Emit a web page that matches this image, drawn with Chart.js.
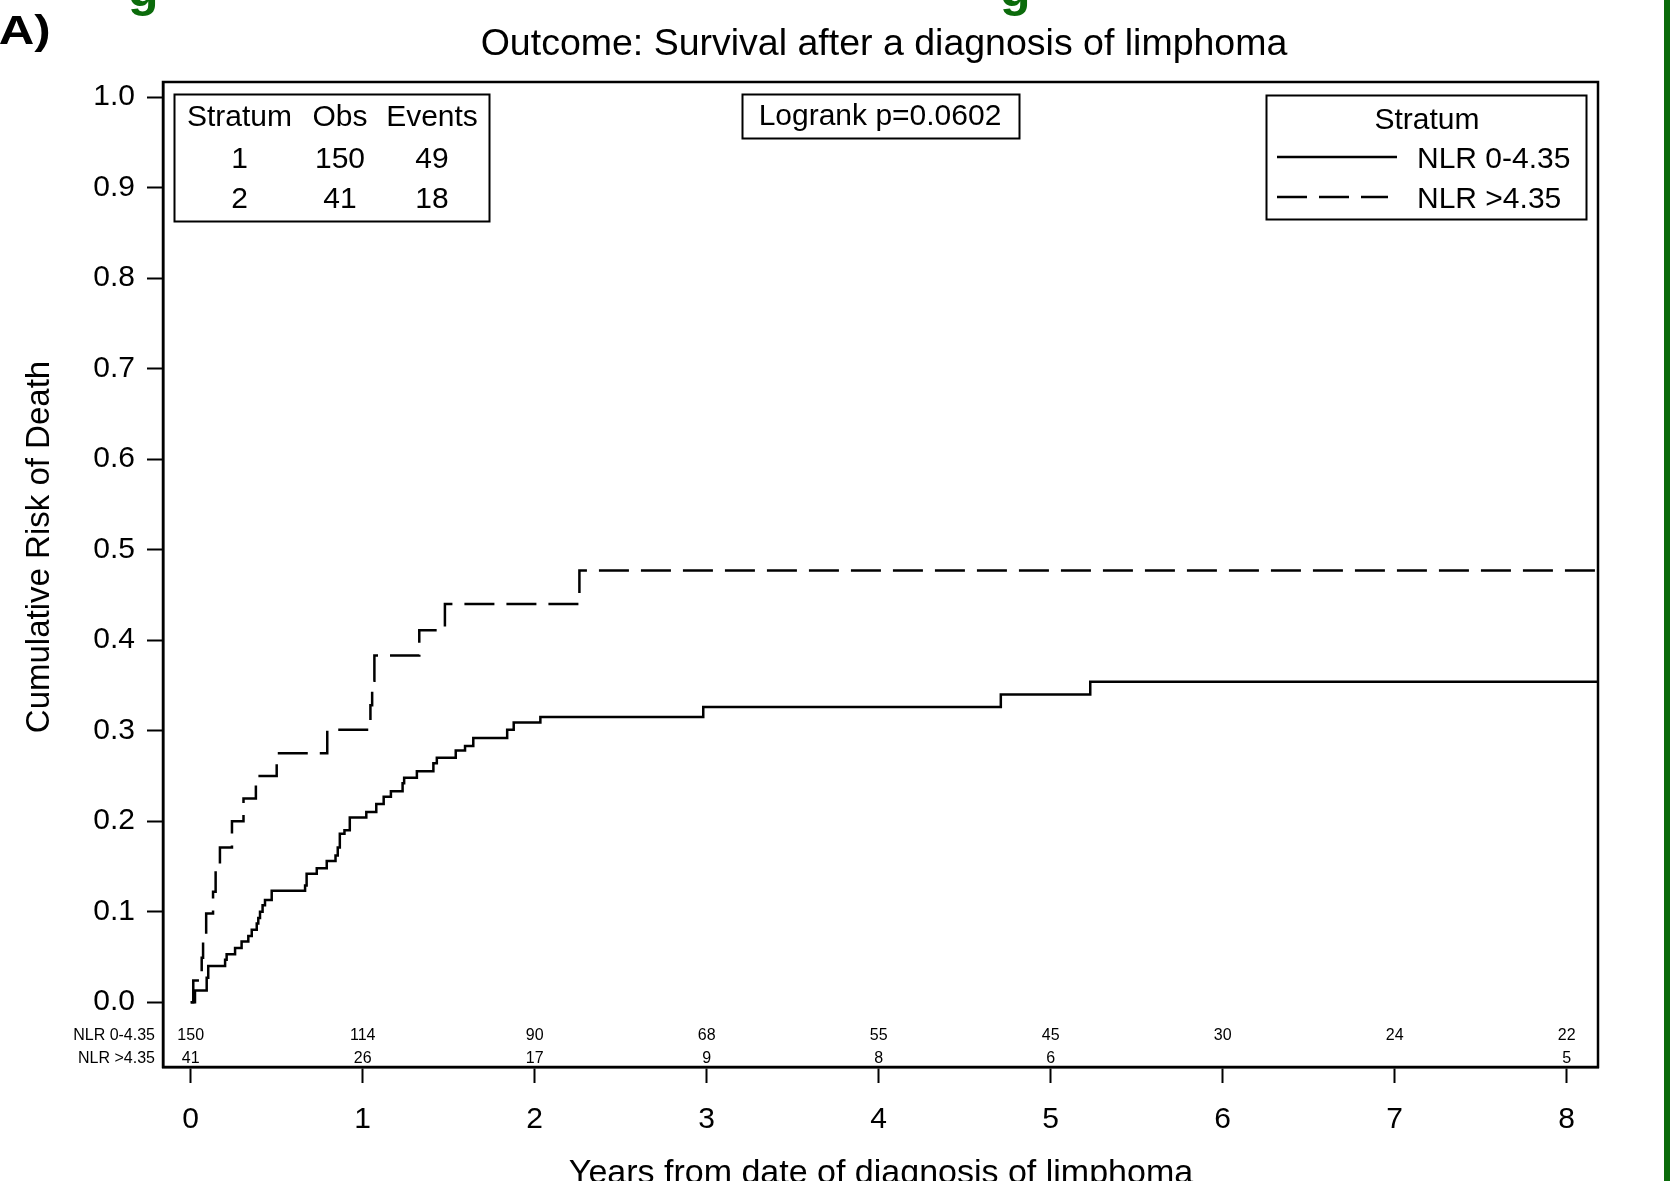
<!DOCTYPE html>
<html>
<head>
<meta charset="utf-8">
<script src="https://cdn.jsdelivr.net/npm/chart.js@4.4.1/dist/chart.umd.min.js"></script>
<style>
  html, body { margin: 0; padding: 0; background: #fff; }
  #wrap { position: relative; width: 1670px; height: 1181px; overflow: hidden; }
</style>
</head>
<body>
<div id="wrap"><canvas id="km"></canvas></div>
<script>
// cumulative risk of death, step values: [years] / [risk]
const lowNlrTimes = [0, 0.025, 0.093, 0.102, 0.20, 0.209, 0.258, 0.296, 0.335, 0.355, 0.384, 0.393, 0.403, 0.418, 0.432, 0.471,
  0.665, 0.674, 0.733, 0.791, 0.842, 0.855, 0.867, 0.894, 0.925, 1.021, 1.079, 1.122, 1.164, 1.232, 1.241, 1.315, 1.411, 1.431,
  1.541, 1.595, 1.643, 1.840, 1.878, 2.033, 2.98, 4.71, 5.23, 8.18];
const lowNlrRisk = [0, 0.013, 0.027, 0.040, 0.047, 0.053, 0.060, 0.067, 0.073, 0.080, 0.087, 0.093, 0.100, 0.107, 0.113, 0.123,
  0.129, 0.142, 0.148, 0.156, 0.162, 0.171, 0.186, 0.190, 0.204, 0.210, 0.219, 0.227, 0.233, 0.242, 0.248, 0.255, 0.264, 0.270,
  0.278, 0.283, 0.292, 0.301, 0.309, 0.315, 0.326, 0.340, 0.354, 0.354];
const highNlrTimes = [0, 0.015, 0.064, 0.072, 0.09, 0.13, 0.145, 0.17, 0.24, 0.307, 0.379, 0.50, 0.794, 1.045, 1.055, 1.068,
  1.329, 1.478, 2.26, 8.18];
const highNlrRisk = [0, 0.024, 0.049, 0.073, 0.098, 0.122, 0.146, 0.171, 0.200, 0.225, 0.250, 0.275, 0.301, 0.328, 0.355, 0.383,
  0.411, 0.440, 0.477, 0.477];

const yearTicks = [0, 1, 2, 3, 4, 5, 6, 7, 8];
const riskTicks = [0, 0.1, 0.2, 0.3, 0.4, 0.5, 0.6, 0.7, 0.8, 0.9, 1.0];

// numbers at risk under each year tick
const atRiskLow = [150, 114, 90, 68, 55, 45, 30, 24, 22];
const atRiskHigh = [41, 26, 17, 9, 8, 6, null, null, 5];

const strataLabels = ['NLR 0-4.35', 'NLR >4.35'];
const summaryHeader = ['Stratum', 'Obs', 'Events'];
const summaryRows = [['1', '150', '49'], ['2', '41', '18']];
const logrankText = 'Logrank p=0.0602';
const chartTitle = 'Outcome: Survival after a diagnosis of limphoma';
const xTitle = 'Years from date of diagnosis of limphoma';
const yTitle = 'Cumulative Risk of Death';

const FONT = "'Liberation Sans', Arial, sans-serif";
const dash = [30, 12];

const toPoints = (ts, vs) => ts.map((t, i) => ({x: t, y: vs[i]}));

const decorations = {
  id: 'decorations',
  afterDraw(chart) {
    const {ctx, chartArea: a, scales: {x}} = chart;
    ctx.save();
    ctx.fillStyle = '#000';
    ctx.strokeStyle = '#000';

    // plot frame
    ctx.lineWidth = 2.5;
    ctx.strokeRect(a.left, a.top, a.right - a.left, a.bottom - a.top);

    // panel letter (wide bold face in the original)
    ctx.textAlign = 'left';
    ctx.textBaseline = 'alphabetic';
    ctx.save();
    ctx.scale(1.2, 1);
    ctx.font = `bold 41px ${FONT}`;
    ctx.fillText('A)', -1, 44);
    ctx.restore();

    // cut-off heading glyphs and green page edge
    ctx.fillStyle = '#0b6b0b';
    ctx.font = `bold 50px ${FONT}`;
    ctx.fillText('g', 128, 6);
    ctx.fillText('g', 1000, 6);
    ctx.fillRect(1664, 0, 6, 1181);
    ctx.fillStyle = '#000';

    // title
    ctx.font = `37.5px ${FONT}`;
    ctx.textAlign = 'center';
    ctx.fillText(chartTitle, 884, 55);

    // axis titles
    ctx.font = `34px ${FONT}`;
    ctx.fillText(xTitle, 881, 1183);
    ctx.save();
    ctx.translate(49, 547);
    ctx.rotate(-Math.PI / 2);
    ctx.font = `33px ${FONT}`;
    ctx.fillText(yTitle, 0, 0);
    ctx.restore();

    // summary box
    ctx.lineWidth = 2;
    ctx.strokeRect(174.5, 94.5, 315, 127);
    ctx.font = `30px ${FONT}`;
    const cols = [239.5, 340, 432];
    summaryHeader.forEach((h, i) => ctx.fillText(h, cols[i], 126));
    summaryRows.forEach((row, r) => {
      row.forEach((c, i) => ctx.fillText(c, cols[i], 168 + r * 40));
    });

    // logrank box
    ctx.strokeRect(742.5, 94.5, 277, 44);
    ctx.fillText(logrankText, 880, 125);

    // stratum legend
    ctx.strokeRect(1266.5, 95.5, 320, 124);
    ctx.fillText('Stratum', 1427, 129);
    ctx.textAlign = 'left';
    chart.data.datasets.forEach((ds, i) => {
      const ly = 157 + i * 40;
      ctx.save();
      ctx.lineWidth = ds.borderWidth;
      ctx.setLineDash(ds.borderDash || []);
      ctx.beginPath();
      ctx.moveTo(1277, ly);
      ctx.lineTo(i === 0 ? 1397 : 1388, ly);
      ctx.stroke();
      ctx.restore();
      ctx.fillText(ds.label, 1417, 168 + i * 40);
    });

    // numbers at risk
    ctx.font = `16px ${FONT}`;
    ctx.textBaseline = 'middle';
    ctx.textAlign = 'right';
    ctx.fillText(strataLabels[0], 155, 1036);
    ctx.fillText(strataLabels[1], 155, 1059);
    ctx.textAlign = 'center';
    yearTicks.forEach((yr, i) => {
      const px = x.getPixelForValue(yr);
      if (atRiskLow[i] != null) ctx.fillText(String(atRiskLow[i]), px, 1036);
      if (atRiskHigh[i] != null) ctx.fillText(String(atRiskHigh[i]), px, 1059);
    });
    ctx.restore();
  }
};

new Chart(document.getElementById('km'), {
  type: 'line',
  data: {
    datasets: [
      {
        label: strataLabels[0],
        data: toPoints(lowNlrTimes, lowNlrRisk),
        borderColor: '#000',
        borderWidth: 2.5,
        stepped: true,
        pointRadius: 0,
        fill: false
      },
      {
        label: strataLabels[1],
        data: toPoints(highNlrTimes, highNlrRisk),
        borderColor: '#000',
        borderWidth: 2.5,
        borderDash: dash,
        stepped: true,
        pointRadius: 0,
        fill: false
      }
    ]
  },
  options: {
    responsive: true,
    maintainAspectRatio: false,
    animation: false,
    devicePixelRatio: 1,
    layout: {padding: {top: 82, right: 72, left: 0, bottom: 0}},
    plugins: {
      legend: {display: false},
      title: {display: false},
      tooltip: {enabled: false}
    },
    scales: {
      x: {
        type: 'linear',
        min: -0.161,
        max: 8.182,
        afterBuildTicks: s => { s.ticks = yearTicks.map(v => ({value: v})); },
        afterFit: s => { s.height = 114; },
        grid: {drawOnChartArea: false, drawTicks: true, tickLength: 16, tickWidth: 2, tickColor: '#000'},
        border: {display: true, color: '#000', width: 2.5},
        ticks: {
          color: '#000',
          font: {family: FONT, size: 30},
          padding: 19,
          maxRotation: 0,
          autoSkip: false,
          callback: v => String(v)
        }
      },
      y: {
        type: 'linear',
        min: -0.0716,
        max: 1.0166,
        afterBuildTicks: s => { s.ticks = riskTicks.map(v => ({value: v})); },
        afterFit: s => { s.width = 163; },
        grid: {drawOnChartArea: false, drawTicks: true, tickLength: 16, tickWidth: 2, tickColor: '#000'},
        border: {display: true, color: '#000', width: 2.5},
        ticks: {
          color: '#000',
          font: {family: FONT, size: 30},
          padding: 12,
          autoSkip: false,
          callback: v => v.toFixed(1)
        }
      }
    }
  },
  plugins: [decorations]
});
</script>
</body>
</html>
